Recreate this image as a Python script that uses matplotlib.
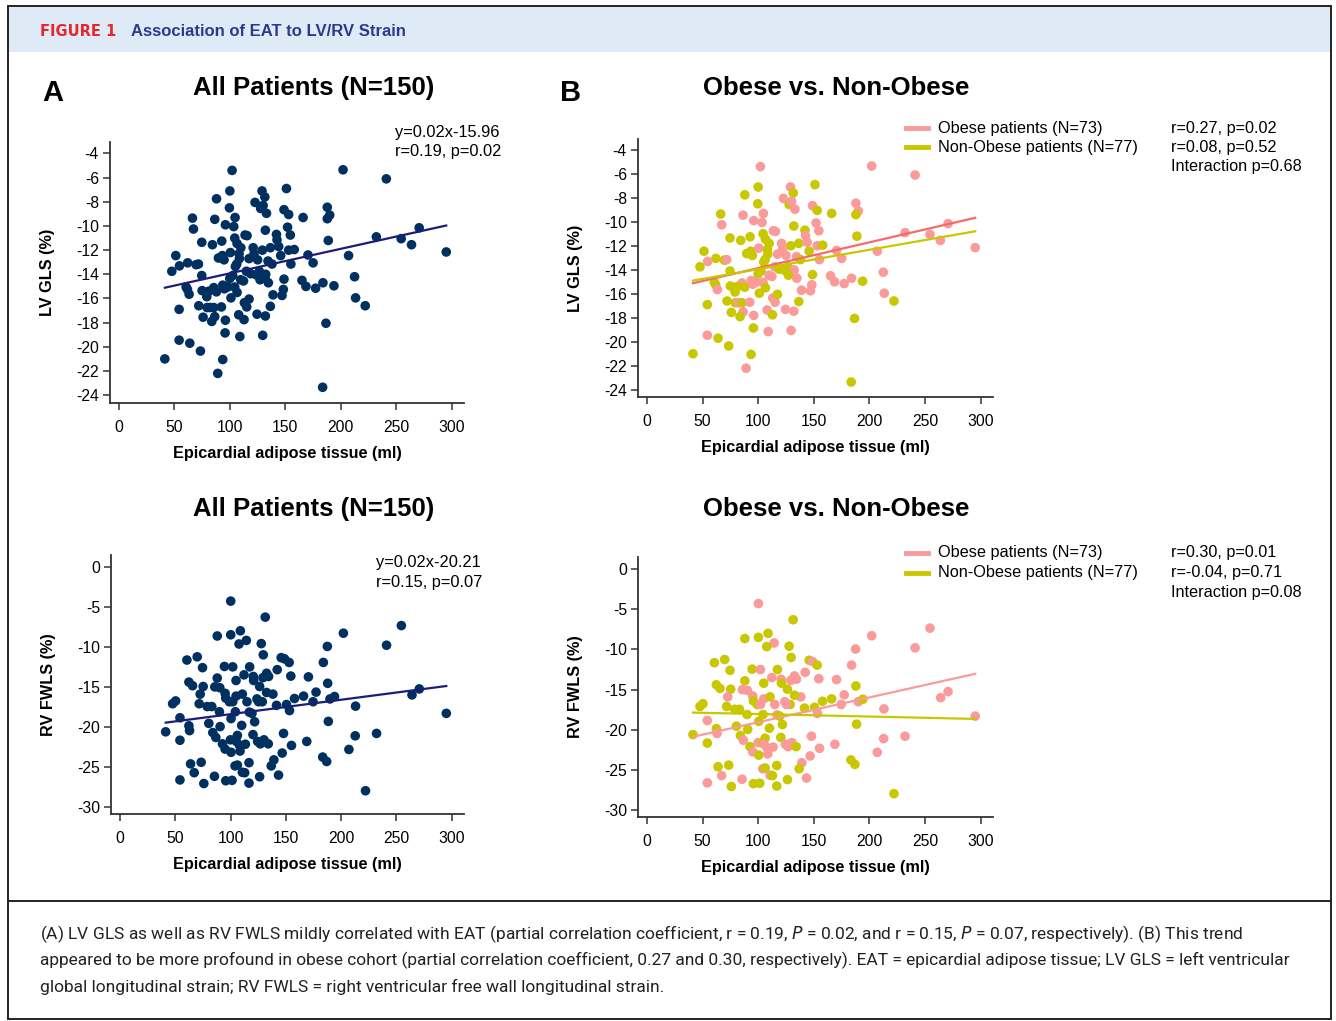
import numpy as np
from matplotlib import pyplot as plt
from matplotlib.lines import Line2D
from matplotlib.patches import Rectangle

plt.rcParams.update({'font.family': ['Liberation Sans', 'DejaVu Sans'], 'font.size': 11})

# LV GLS vs EAT (top row), group: O = obese, N = non-obese
lv_eat = [102, 202, 241, 100, 129, 151, 131.5, 88, 122.7, 99.6, 127.8, 130, 148.8, 133, 153,
          187.8, 190, 187.8, 66.3, 86.4, 104.7, 166, 67.2, 96, 103.5, 152, 270.6, 132, 154.5, 142,
          113.7, 115.5, 104.4, 232, 142.5, 188.7, 254.4, 74.7, 84.3, 92.7, 106.5, 263.7, 109.9, 121, 129.3,
          136.5, 144, 153, 158, 295, 51.3, 89.7, 93.3, 94.8, 100.5, 108.3, 117.3, 121.8, 125, 134.4,
          145.8, 170.4, 207, 62, 54.6, 69.6, 71.7, 106.2, 108.6, 105, 138, 155, 175, 47.7, 114.9,
          118.8, 123.9, 126.6, 131.7, 132.3, 74.7, 102.6, 99.9, 109.8, 112.3, 127.2, 134.7, 148.8, 165, 168.6,
          177.3, 183.9, 193.8, 212.4, 60.6, 61.8, 85.5, 87.9, 93.6, 95.1, 98.1, 104.4, 106.5, 75, 79,
          81, 63.3, 79.2, 101, 138.9, 147, 148.2, 54.3, 72, 79.5, 82.2, 85.5, 92.4, 113.1, 115.2,
          117.3, 136.5, 213.3, 222, 75.9, 86.4, 83.7, 96, 108, 112.8, 124.5, 132, 186.6, 95.7, 109,
          129.6, 54.3, 63.9, 73.5, 41.4, 93.6, 89.1, 183.6]
lv_gls = [-5.4, -5.35, -6.1, -7.1, -7.1, -6.9, -7.6, -7.75, -8.05, -8.5, -8.55, -8.3, -8.65, -8.95, -9.05,
          -8.45, -9.1, -9.4, -9.35, -9.45, -9.3, -9.3, -10.25, -9.9, -10.05, -10.1, -10.15, -10.35, -10.75, -10.7,
          -10.75, -10.8, -11.0, -10.9, -11.15, -11.2, -11.05, -11.35, -11.55, -11.25, -11.45, -11.55, -11.8, -11.8, -12.0,
          -11.8, -11.7, -12.0, -11.95, -12.15, -12.45, -12.65, -12.45, -12.8, -12.2, -12.3, -12.7, -12.3, -12.8, -12.9,
          -12.45, -12.4, -12.45, -13.05, -13.3, -13.2, -13.15, -13.15, -12.7, -13.35, -13.15, -13.15, -13.05, -13.75, -13.75,
          -13.95, -14.05, -13.75, -14.2, -14.0, -14.1, -14.1, -14.35, -14.45, -14.55, -14.45, -14.7, -14.4, -14.5, -15.0,
          -15.15, -14.7, -14.95, -14.2, -15.05, -15.25, -15.1, -15.45, -14.9, -15.2, -15.05, -15.05, -15.5, -15.35, -15.5,
          -15.4, -15.65, -15.85, -15.95, -15.7, -15.75, -15.25, -16.9, -16.6, -16.75, -16.75, -16.75, -16.7, -16.35, -16.7,
          -16.05, -16.65, -15.95, -16.6, -17.55, -17.5, -17.9, -17.8, -17.35, -17.75, -17.3, -17.45, -18.05, -18.85, -19.15,
          -19.05, -19.45, -19.7, -20.35, -21.0, -21.05, -22.2, -23.35]
lv_grp = list('OOONONNNON' 'NOOONOONNO' 'ONOOOOONON' 'OONOONONNN' 'NONONNOONO'
              'NNNNONOOOO' 'NOONONONNN' 'NOONONNNNO' 'NNNOONONOO' 'OONONNONOO'
              'OONNNNONNO' 'OONNNONOOO' 'NNONNONOON' 'OONNOOONNN' 'NON')

# RV FWLS vs EAT (bottom row)
rv_eat = [100.2, 131.4, 254.4, 88, 100.2, 108.9, 114.3, 107.7, 127.8, 202, 187.5, 241, 60.6, 69.9, 74.7,
          94.5, 102, 117.3, 129.6, 145.8, 148.8, 153, 183.9, 62.4, 65.7, 75.3, 72.6, 88, 85.8, 90.3,
          95.1, 105, 112.2, 120.6, 120.9, 126.3, 129.3, 132.6, 134.4, 142.2, 154.5, 170.4, 187.8, 138.3, 132.6,
          123.9, 128.7, 157.8, 166, 174.6, 177.3, 189.9, 194, 213, 264, 270.6, 47.7, 50.4, 71.7, 78.9,
          83.1, 95.7, 99, 102, 105, 110.7, 114.9, 90, 100.5, 104.4, 117, 119.4, 125.4, 141.6, 150.6,
          153.3, 54.3, 62.4, 63, 41.4, 54.3, 80.4, 90.6, 84, 86.7, 92.7, 95.1, 100.5, 99.9, 104.1,
          106.2, 110.1, 105.3, 108, 113.4, 108.6, 120.3, 121.8, 124.5, 126.9, 130.2, 134.1, 147.9, 155.1, 168.9,
          146.7, 139.2, 136.8, 183.3, 186.9, 188.4, 207, 212.7, 232, 295, 63.9, 73.5, 67.2, 54.3, 75.9,
          85.5, 95.7, 101.4, 104.1, 106.2, 110.7, 112.8, 116.7, 116.7, 126.3, 143.4, 222]
rv_fwls = [-4.3, -6.3, -7.35, -8.65, -8.5, -8.0, -9.2, -9.65, -9.6, -8.3, -9.95, -9.8, -11.65, -11.25, -12.6,
           -12.45, -12.5, -12.5, -11.0, -11.35, -11.5, -11.95, -11.95, -14.4, -14.85, -14.95, -15.9, -13.9, -15.0, -15.1,
           -15.8, -14.2, -13.5, -13.7, -14.2, -14.95, -13.85, -13.3, -13.7, -12.85, -13.65, -13.75, -14.55, -15.9, -15.7,
           -16.5, -16.85, -16.45, -16.15, -16.85, -15.65, -16.5, -16.2, -17.4, -16.0, -15.25, -17.1, -16.75, -17.1, -17.45,
           -17.45, -16.4, -16.85, -16.85, -16.15, -15.9, -16.85, -18.1, -18.95, -18.1, -18.15, -18.3, -16.85, -17.3, -17.2,
           -17.95, -18.85, -19.85, -20.45, -20.6, -21.65, -19.55, -19.95, -20.7, -21.3, -22.1, -22.75, -23.15, -21.6, -21.6,
           -21.05, -19.8, -21.8, -22.25, -22.15, -23.0, -20.95, -19.35, -21.8, -22.1, -21.6, -22.1, -20.8, -22.3, -21.8,
           -23.25, -24.1, -24.85, -23.75, -24.3, -19.3, -22.8, -21.1, -20.8, -18.3, -24.6, -24.4, -25.7, -26.6, -27.05,
           -26.15, -26.7, -26.65, -24.85, -24.75, -25.65, -25.7, -24.45, -27.0, -26.2, -26.0, -27.95]
rv_grp = list('ONONNNONNO' 'OONNNNONNN' 'ONONNNONOO' 'ONOONNOOOO' 'OONONONNNO'
              'OONOOONNNN' 'NNNOONONNN' 'ONONNOONON' 'NNNNONONON' 'NNOOOONNOO'
              'ONOOOOONNN' 'NOOOONNOON' 'ONNONONNNN' 'ON')

# fitted lines (slope, intercept)
fit_all_lv = (0.0203, -15.95)
fit_all_rv = (0.018, -20.2)
fit_ob_lv, fit_non_lv = (0.0215, -16.01), (0.0162, -15.57)
fit_ob_rv, fit_non_rv = (0.0309, -22.15), (-0.0031, -17.73)

x_ticks = [0, 50, 100, 150, 200, 250, 300]
lv_ticks = list(range(-24, -3, 2))
rv_ticks = [0, -5, -10, -15, -20, -25, -30]

NAVY = '#00305f'
LINE_NAVY = '#1c1c7a'
PINK = '#fa9a9a'
PINK_LINE = '#f86a6a'
OLIVE = '#c9c700'

W, H = 1336, 1021
fig = plt.figure(figsize=(W / 100, H / 100), dpi=100)


def px_axes(x0, y0, x1, y1):
    return fig.add_axes([x0 / W, 1 - y1 / H, (x1 - x0) / W, (y1 - y0) / H])


def ft(x, y, s, **kw):
    return fig.text(x / W, 1 - y / H, s, **kw)


def style(ax, yticks, ylim, ylabel):
    ax.set_xlim(-8, 311)
    ax.set_ylim(*ylim)
    ax.set_xticks(x_ticks)
    ax.set_yticks(yticks)
    ax.set_yticklabels([str(t) for t in yticks])
    for s in ['top', 'right']:
        ax.spines[s].set_visible(False)
    for s in ['left', 'bottom']:
        ax.spines[s].set_color('#333333')
        ax.spines[s].set_linewidth(1.3)
    ax.tick_params(direction='out', length=5, width=1.1, color='#333333', labelsize=11.3)
    ax.tick_params(axis='x', pad=7.5)
    ax.tick_params(axis='y', pad=3)
    ax.set_xlabel('Epicardial adipose tissue (ml)', fontweight='bold', fontsize=11.7, labelpad=8)
    ax.set_ylabel(ylabel, fontweight='bold', fontsize=11.7, labelpad=15)
    ax.patch.set_alpha(0)


def fit_line(ax, x, coef, color, lw=1.6):
    xs = np.array([min(x), max(x)])
    ax.plot(xs, coef[0] * xs + coef[1], color=color, lw=lw, zorder=3)


# ---- frame and header
fig.add_artist(Rectangle((8 / W, 1 - 52 / H), 1323 / W, 45 / H, transform=fig.transFigure,
                         facecolor='#deeaf6', edgecolor='none'))
fig.add_artist(Rectangle((8 / W, 1 - 1019 / H), 1323 / W, 1013 / H, transform=fig.transFigure,
                         facecolor='none', edgecolor='#222222', lw=1.4))
fig.add_artist(Line2D([8 / W, 1331 / W], [1 - 901 / H] * 2, transform=fig.transFigure, color='#222222', lw=1.4))
ft(40, 31, 'FIGURE 1', color='#e5262d', fontweight='bold', fontsize=10.5, va='center', family='DejaVu Sans')
ft(131, 31, 'Association of EAT to LV/RV Strain', color='#2d3a8c', fontweight='bold', fontsize=12, va='center')

# ---- panel A
axA1 = px_axes(110, 142, 464, 403)
axA1.scatter(lv_eat, lv_gls, s=48, color=NAVY, edgecolors='none', zorder=2)
fit_line(axA1, lv_eat, fit_all_lv, LINE_NAVY)
style(axA1, lv_ticks, (-24.65, -3.05), 'LV GLS (%)')

axA2 = px_axes(111, 555, 464, 814)
axA2.scatter(rv_eat, rv_fwls, s=48, color=NAVY, edgecolors='none', zorder=2)
fit_line(axA2, rv_eat, fit_all_rv, LINE_NAVY)
style(axA2, rv_ticks, (-30.85, 1.45), 'RV FWLS (%)')

ft(53, 93, 'A', fontweight='bold', fontsize=21, ha='center', va='center')
ft(314, 88, 'All Patients (N=150)', fontweight='bold', fontsize=18.5, ha='center', va='center')
ft(314, 509, 'All Patients (N=150)', fontweight='bold', fontsize=18.5, ha='center', va='center')
ft(395, 132, 'y=0.02x-15.96', fontsize=11.8, va='center')
ft(395, 151, 'r=0.19, p=0.02', fontsize=11.8, va='center')
ft(376, 563, 'y=0.02x-20.21', fontsize=11.8, va='center')
ft(376, 582, 'r=0.15, p=0.07', fontsize=11.8, va='center')

# ---- panel B
lv_col = [PINK if g == 'O' else OLIVE for g in lv_grp]
rv_col = [PINK if g == 'O' else OLIVE for g in rv_grp]

axB1 = px_axes(638, 139, 993, 397)
axB1.scatter(lv_eat, lv_gls, s=48, c=lv_col, edgecolors='none', zorder=2)
fit_line(axB1, lv_eat, fit_ob_lv, PINK_LINE)
fit_line(axB1, lv_eat, fit_non_lv, OLIVE)
style(axB1, lv_ticks, (-24.6, -3.1), 'LV GLS (%)')

axB2 = px_axes(638, 557, 993, 817)
axB2.scatter(rv_eat, rv_fwls, s=48, c=rv_col, edgecolors='none', zorder=2)
fit_line(axB2, rv_eat, fit_ob_rv, PINK)
fit_line(axB2, rv_eat, fit_non_rv, OLIVE)
style(axB2, rv_ticks, (-30.85, 1.5), 'RV FWLS (%)')

ft(571, 93, 'B', fontweight='bold', fontsize=21, ha='center', va='center')
ft(836, 88, 'Obese vs. Non-Obese', fontweight='bold', fontsize=18.5, ha='center', va='center')
ft(836, 509, 'Obese vs. Non-Obese', fontweight='bold', fontsize=18.5, ha='center', va='center')

legend_rows = [
    (128, ['r=0.27, p=0.02', 'r=0.08, p=0.52', 'Interaction p=0.68']),
    (553, ['r=0.30, p=0.01', 'r=-0.04, p=0.71', 'Interaction p=0.08']),
]
for y0, stats in legend_rows:
    for i, (lab, col) in enumerate([('Obese patients (N=73)', PINK), ('Non-Obese patients (N=77)', OLIVE)]):
        yy = y0 + 19.5 * i
        fig.add_artist(Line2D([906 / W, 928 / W], [1 - yy / H] * 2, transform=fig.transFigure, color=col, lw=3.5))
        ft(938, yy, lab, fontsize=11.7, va='center')
    for i, s in enumerate(stats):
        ft(1171, y0 + 19.5 * i, s, fontsize=11.7, va='center')
fig.add_artist(Line2D([913 / W], [1 - 175 / H], transform=fig.transFigure, marker='o', ms=4,
                      color=PINK, mec='none', ls='none'))

# ---- caption, scaled so the longest line stays inside the frame
cap = ['(A) LV GLS as well as RV FWLS mildly correlated with EAT (partial correlation coefficient, r = 0.19, $P$ = 0.02, and r = 0.15, $P$ = 0.07, respectively). (B) This trend',
       'appeared to be more profound in obese cohort (partial correlation coefficient, 0.27 and 0.30, respectively). EAT = epicardial adipose tissue; LV GLS = left ventricular',
       'global longitudinal strain; RV FWLS = right ventricular free wall longitudinal strain.']
cap_txt = [ft(40, 934 + 26.5 * i, line, fontsize=12, va='center', color='#222222', family='Roboto')
           for i, line in enumerate(cap)]
r = fig.canvas.get_renderer()
w2 = cap_txt[1].get_window_extent(r).width
for t in cap_txt:
    t.set_fontsize(12 * 1252 / w2)

fig.savefig('out.png', dpi=100)
